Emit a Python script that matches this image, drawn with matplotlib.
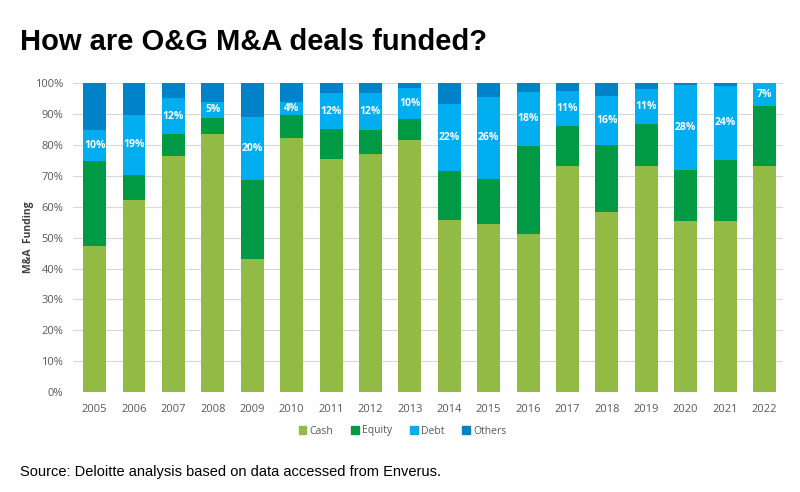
import matplotlib
matplotlib.use("Agg")
import matplotlib.pyplot as plt
from matplotlib.patches import Patch
import numpy as np

years = ["2005", "2006", "2007", "2008", "2009", "2010", "2011", "2012", "2013",
         "2014", "2015", "2016", "2017", "2018", "2019", "2020", "2021", "2022"]
cash = [47.4, 62.2, 76.6, 83.7, 43.1, 82.3, 75.4, 77.2, 81.5,
        55.8, 54.3, 51.3, 73.1, 58.3, 73.2, 55.3, 55.5, 73.2]
equity = [27.4, 8.1, 6.9, 5.2, 25.6, 7.5, 9.7, 7.8, 6.9,
          15.8, 14.8, 28.4, 13.2, 21.7, 13.7, 16.7, 19.8, 19.6]
debt = [10.1, 19.5, 11.7, 5.2, 20.4, 4.2, 11.7, 11.8, 10.2,
        21.8, 26.4, 17.6, 11.3, 16.0, 11.4, 27.5, 23.9, 7.2]
others = [15.1, 10.2, 4.8, 5.9, 10.9, 6.0, 3.2, 3.2, 1.4,
          6.6, 4.5, 2.7, 2.4, 4.0, 1.7, 0.5, 0.8, 0.0]
debt_labels = ["10%", "19%", "12%", "5%", "20%", "4%", "12%", "12%", "10%",
               "22%", "26%", "18%", "11%", "16%", "11%", "28%", "24%", "7%"]
series_names = ["Cash", "Equity", "Debt", "Others"]
colors = ["#92BB45", "#009A44", "#00ADEF", "#0082C8"]

fig = plt.figure(figsize=(8, 4.92), dpi=100)
ax = fig.add_axes([73/800, 1-392/492, (783-73)/800, (392-83.3)/492])

x = np.arange(len(years))
w = 0.58
bottom = np.zeros(len(years))
for vals, col in zip([cash, equity, debt, others], colors):
    v = np.array(vals)
    ax.bar(x, v, w, bottom=bottom, color=col, zorder=3, linewidth=0)
    bottom = bottom + v

# debt labels
cb = np.array(cash) + np.array(equity)
for i, lab in enumerate(debt_labels):
    ax.text(x[i], cb[i] + debt[i]/2, lab, ha="center", va="center",
            color="white", fontsize=7.5, fontweight="bold", family="Open Sans", zorder=4)

ax.set_xlim(-0.55, 17.47)
ax.set_ylim(0, 100)
ax.set_yticks(np.arange(0, 101, 10))
ax.set_yticklabels([f"{t}%" for t in range(0, 101, 10)])
ax.set_xticks(x)
ax.set_xticklabels(years)
ax.grid(axis="y", color="#d9d9d9", linewidth=0.8, zorder=0)
for s in ax.spines.values():
    s.set_visible(False)
ax.tick_params(axis="both", length=0, labelsize=8, labelcolor="#595959")
ax.tick_params(axis="x", pad=9)
ax.tick_params(axis="y", pad=7)
for lab in ax.get_xticklabels() + ax.get_yticklabels():
    lab.set_family("Open Sans")
ax.set_ylabel("M&A  Funding", fontsize=7.5, fontweight="bold", color="#404040",
              family="Open Sans", labelpad=1)

handles = [Patch(color=c, label=n) for c, n in zip(colors, series_names)]
leg = fig.legend(handles=handles, loc="center", bbox_to_anchor=(0.503, 1-431/492),
                 ncol=4, frameon=False, handlelength=0.75, handleheight=0.75,
                 handletextpad=0.3, columnspacing=1.7,
                 prop={"family": "Open Sans", "size": 7.5})
for t in leg.get_texts():
    t.set_color("#595959")

fig.text(20/800, 1-50/492, "How are O&G M&A deals funded?", fontsize=21,
         fontweight="bold", family="Liberation Sans", color="black", va="baseline")
fig.text(20/800, 1-472/492, "Source: Deloitte analysis based on data accessed from Enverus.",
         fontsize=10.5, family="Liberation Sans", color="black", va="center")

fig.savefig("out.png", dpi=100)
